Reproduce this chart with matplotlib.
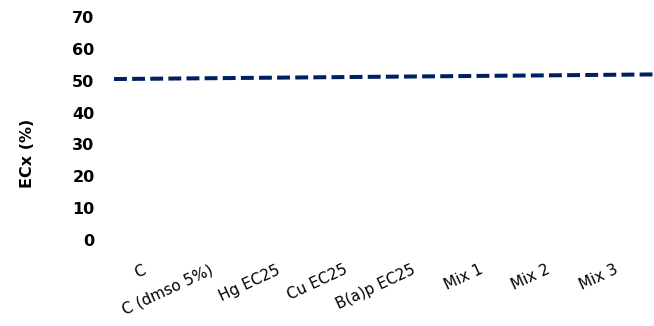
import numpy as np
import matplotlib.pyplot as plt

# categories and ECx values (%)
categories = ["C", "C (dmso 5%)", "Hg EC25", "Cu EC25", "B(a)p EC25", "Mix 1", "Mix 2", "Mix 3"]
ecx = [50.6, 50.8, 51.0, 51.2, 51.3, 51.5, 51.7, 51.9]
y_ticks = [0, 10, 20, 30, 40, 50, 60, 70]

fig = plt.figure(figsize=(6.54, 3.26), dpi=100)
ax = fig.add_axes([114 / 654, 86 / 326, 540 / 654, 223 / 326])

x = np.arange(len(categories))

# linear trendline over the whole plot area
coef = np.polyfit(x, ecx, 1)
xs = np.array([-0.5, len(categories) - 0.5])
ax.plot(xs, np.polyval(coef, xs), color="#002060", linewidth=2.9,
        dashes=(3.2, 1.3), solid_capstyle="butt", dash_capstyle="butt")

ax.set_xlim(-0.5, len(categories) - 0.5)
ax.set_ylim(0, 70)
ax.set_yticks(y_ticks)
ax.set_yticklabels([str(v) for v in y_ticks], fontsize=11.5, fontweight="bold")
ax.set_xticks(x)
ax.set_xticklabels(categories, fontsize=11, rotation=25, ha="right")
ax.tick_params(axis="y", length=0, pad=14)
ax.tick_params(axis="x", length=0, pad=16)
for s in ax.spines.values():
    s.set_visible(False)

fig.text(27 / 654, 1 - 153 / 326, "ECx (%)", rotation=90, ha="center", va="center",
         fontsize=11.5, fontweight="bold")

plt.savefig("out.png", dpi=100)
